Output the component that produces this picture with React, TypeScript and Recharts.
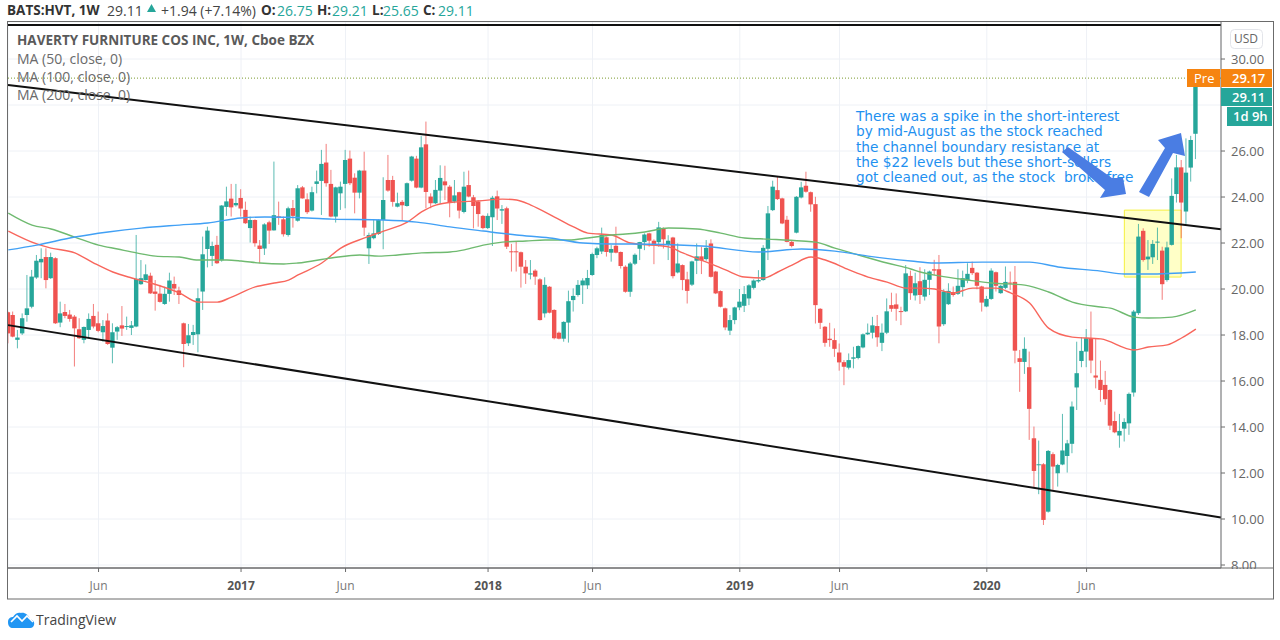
import React from "react";
import {
  ComposedChart,
  CartesianGrid,
  XAxis,
  YAxis,
  Bar,
  Line,
  ReferenceLine,
  ReferenceArea,
} from "recharts";

// weekly candles
const opens = [
  18.99,18.87,17.79,18.07,18.87,19.23,20.50,21.16,21.39,20.47,
  21.34,18.54,19.00,18.89,18.80,18.25,17.79,18.22,18.83,18.51,
  18.12,18.63,17.45,18.15,18.42,18.35,18.31,18.37,20.21,20.39,
  20.58,19.89,19.80,19.35,19.79,20.22,19.94,18.51,17.64,18.00,
  18.03,19.89,21.74,21.44,21.92,21.25,23.57,23.93,23.64,23.96,
  23.44,22.65,23.00,21.89,21.76,22.90,22.55,23.16,23.03,22.35,
  23.52,22.97,24.42,23.90,23.41,24.57,24.70,25.50,24.57,23.15,
  24.16,24.57,25.67,24.84,24.19,25.15,21.77,22.21,22.39,23.00,
  24.74,24.74,23.58,23.79,23.61,24.71,25.67,24.41,26.29,24.02,
  23.73,24.28,24.68,24.45,23.80,24.21,23.35,24.52,23.99,23.80,
  23.18,22.65,23.12,24.03,23.41,23.51,21.64,21.64,21.60,20.97,
  20.63,20.80,20.42,18.94,20.10,19.09,18.10,17.84,18.54,19.52,
  19.74,20.16,20.16,20.61,21.48,21.63,22.25,21.58,21.88,21.61,
  20.97,19.88,21.10,21.75,22.04,22.42,22.10,22.04,22.65,21.91,
  22.24,20.72,21.04,20.42,20.19,21.23,21.42,21.30,21.98,20.76,
  19.91,19.16,18.19,18.65,19.20,19.27,19.59,20.05,20.33,20.39,
  21.75,23.43,24.30,23.94,23.01,22.05,22.45,23.98,24.49,24.21,
  23.69,19.14,18.36,17.84,17.78,17.24,16.82,16.58,16.97,17.00,
  17.46,18.03,18.10,18.39,17.66,18.10,19.30,19.33,19.04,19.03,
  20.57,19.72,20.34,19.67,20.40,20.86,20.86,18.47,19.34,19.87,
  19.79,20.08,20.37,20.92,20.71,20.11,19.24,19.57,20.73,19.82,
  20.05,20.28,20.31,16.99,16.83,16.60,13.51,12.34,12.38,10.32,
  12.82,11.99,12.37,12.74,13.27,15.72,16.87,17.28,17.86,16.24,
  16.05,15.83,15.61,14.26,13.63,13.93,14.16,15.50,18.95,22.53,
  21.29,21.38,22.02,21.67,20.39,21.92,24.13,25.29,23.37,25.28,26.75,
];
const closes = [
  18.07,17.93,17.89,18.73,19.16,20.54,21.23,21.31,20.39,21.39,
  18.51,18.94,18.83,18.70,18.29,17.86,18.35,18.70,18.37,18.18,
  18.39,17.61,18.12,18.34,18.28,18.39,18.42,20.44,20.47,20.64,
  19.81,19.79,19.44,19.79,20.37,20.02,19.74,17.61,17.99,18.13,
  19.60,21.51,22.54,21.87,21.12,23.63,23.81,23.55,23.74,23.50,
  22.86,23.00,21.99,21.74,22.81,22.54,23.21,23.10,22.38,23.51,
  23.18,24.38,23.94,23.34,24.21,24.68,25.44,24.60,23.15,24.42,
  24.45,25.61,24.60,24.19,25.15,22.67,22.35,22.42,23.00,23.87,
  24.28,23.79,23.73,23.64,24.60,25.76,24.41,26.16,24.22,23.73,
  24.31,24.83,24.51,23.76,24.07,23.41,24.45,24.02,23.61,23.26,
  22.65,23.18,23.97,23.50,23.47,21.84,21.61,21.61,20.97,20.68,
  20.68,20.54,18.65,20.18,18.97,17.86,17.84,18.57,19.47,19.70,
  20.18,20.37,20.48,21.52,21.77,22.35,21.61,21.74,21.58,21.00,
  19.88,21.11,21.49,22.04,22.37,22.10,21.95,22.68,22.16,22.10,
  20.56,21.11,20.39,19.92,21.20,21.42,21.23,21.79,20.53,19.81,
  19.23,18.33,18.65,19.20,19.45,19.78,20.16,20.37,20.39,21.79,
  23.29,24.45,23.91,22.85,22.05,21.87,24.01,24.42,24.23,23.68,
  19.30,18.53,17.66,17.78,17.40,16.81,16.62,16.91,17.03,17.52,
  18.03,18.10,18.42,17.90,18.10,19.03,19.14,19.14,19.01,20.68,
  19.82,20.25,19.74,20.40,20.76,20.80,18.37,19.89,19.92,19.74,
  20.14,20.47,20.66,20.69,20.14,19.41,19.57,20.80,20.14,20.14,
  20.31,20.24,17.32,16.83,17.40,14.79,12.09,12.38,9.96,12.96,
  12.28,12.35,12.98,13.29,14.89,16.34,17.31,17.86,16.89,16.15,
  15.61,15.21,14.06,13.77,13.83,14.22,15.44,19.02,22.28,21.26,
  21.41,21.96,22.06,20.21,21.81,24.05,25.29,23.76,25.06,26.48,29.11,
];
const highs = [
  19.02,19.02,18.22,18.94,20.61,20.83,21.48,21.77,21.77,21.58,
  21.38,19.45,19.35,19.09,18.87,18.73,18.37,18.94,19.35,19.02,
  18.65,18.94,18.51,18.39,19.26,18.80,18.61,22.35,21.26,21.07,
  20.71,20.39,20.18,20.10,20.71,20.54,20.10,18.54,18.48,18.44,
  20.03,22.28,22.71,22.06,22.31,23.65,24.45,24.57,24.57,24.34,
  23.80,23.15,23.03,22.13,22.86,22.97,25.54,23.80,23.15,23.58,
  23.87,24.52,24.48,24.16,24.45,25.15,26.05,26.31,25.18,24.45,
  24.67,26.05,26.02,25.03,25.18,25.97,22.45,23.00,23.03,24.86,
  25.83,24.92,24.19,23.87,24.63,25.79,25.79,26.65,27.28,24.16,
  24.74,25.38,25.36,24.52,24.74,24.23,25.10,25.15,24.09,23.87,
  23.22,23.29,24.05,24.28,23.65,23.58,21.96,22.06,21.63,21.26,
  21.26,20.86,20.47,20.51,20.13,19.12,18.15,18.60,19.93,20.03,
  20.39,20.47,20.83,21.58,21.84,22.67,22.28,21.91,22.71,21.63,
  21.03,21.18,21.55,22.05,22.42,22.45,22.16,22.92,22.68,22.34,
  22.27,21.98,21.07,20.75,21.23,21.98,21.84,22.13,22.16,20.79,
  19.94,19.19,18.87,19.23,20.00,20.13,20.21,20.42,20.82,21.91,
  23.61,24.71,24.88,23.97,23.18,22.10,24.04,24.66,25.10,24.24,
  24.01,19.17,18.39,18.53,18.29,17.63,16.91,17.20,17.49,17.55,
  18.07,18.50,18.79,18.87,18.50,19.59,19.84,19.81,19.23,21.04,
  20.80,20.71,20.95,20.86,20.80,21.27,21.48,19.99,20.25,20.11,
  20.86,20.80,21.12,21.19,20.74,20.14,19.70,20.90,20.76,20.18,
  20.98,20.76,21.00,17.35,17.90,17.28,14.02,13.41,12.43,13.00,
  12.90,12.40,14.57,13.44,15.11,17.71,17.90,18.26,19.02,17.86,
  16.89,16.44,15.64,14.67,14.57,14.38,15.50,19.09,22.83,22.64,
  22.13,22.13,22.67,21.84,22.06,24.81,25.83,25.61,26.55,26.66,29.21,
];
const lows = [
  17.64,17.90,17.42,18.00,18.58,19.16,20.44,20.47,20.03,20.44,
  18.48,18.34,18.73,18.58,16.63,17.83,17.64,17.86,18.29,18.12,
  17.71,17.57,16.77,17.79,17.96,18.22,18.00,18.34,20.18,20.37,
  19.79,19.06,19.41,19.31,19.45,19.74,19.35,16.60,17.52,17.57,
  17.25,19.09,20.94,21.00,21.09,21.19,23.18,23.15,23.58,23.15,
  22.83,22.02,21.84,21.12,21.48,21.96,22.54,22.79,22.28,22.28,
  22.67,22.93,23.93,23.26,23.37,24.16,23.22,24.45,23.12,22.89,
  23.44,23.51,24.52,23.29,23.94,22.31,21.09,22.16,22.35,21.73,
  24.23,23.58,23.55,23.00,23.58,24.67,24.38,24.38,23.51,23.51,
  23.70,23.70,23.87,23.12,23.73,23.07,23.29,23.99,22.64,22.71,
  22.60,22.61,21.87,23.00,22.83,21.74,20.76,20.76,20.06,20.22,
  20.42,20.18,18.63,18.76,18.94,17.81,17.81,17.71,17.67,19.02,
  19.67,19.35,20.00,20.57,21.34,21.52,21.41,21.19,21.55,20.89,
  19.84,19.66,21.04,21.26,21.69,21.84,21.08,21.84,21.76,21.26,
  20.46,20.68,19.95,19.37,20.13,20.65,20.65,21.23,20.50,19.78,
  19.20,18.21,18.00,18.47,19.08,19.00,19.30,19.98,20.27,20.36,
  21.26,23.39,23.87,22.82,22.03,21.81,22.42,23.94,24.19,23.36,
  18.50,18.26,17.49,17.49,17.05,16.45,15.82,16.50,16.55,16.94,
  17.42,18.00,17.85,17.49,17.30,18.04,19.01,18.62,18.43,19.00,
  19.53,19.50,19.35,19.50,19.74,20.61,17.64,18.40,19.31,19.67,
  19.74,19.67,20.25,20.61,19.99,19.02,19.21,19.53,19.89,19.79,
  19.99,19.96,16.77,15.53,16.31,13.44,11.34,11.08,9.74,10.28,
  11.27,11.41,12.34,12.02,12.86,14.74,16.60,16.60,16.34,15.68,
  15.10,14.96,13.87,13.73,13.10,13.37,13.66,15.32,18.87,21.19,
  20.83,21.09,21.26,19.53,20.32,21.89,23.76,22.21,22.83,24.67,25.65,
];

// moving averages, read at the weeks where the curve bends
const ma50Weeks = [0,6,9,14,18,22,26,30,36,40,44,47,52,56,59,61,66,70,75,79,84,87,90,94,99,104,107,110,115,119,122,127,131,139,142,147,151,155,159,162,165,169,172,177,181,185,189,192,195,199,203,208,211,215,219,224,230,237,240,244,247,250];
const ma50Values = [22.52,21.96,21.78,21.57,21.13,20.74,20.48,20.26,19.83,19.43,19.43,19.65,20.09,20.26,20.39,20.61,21.13,21.78,22.22,22.52,22.91,23.35,23.65,23.78,23.83,23.91,23.87,23.65,23.13,22.70,22.43,22.35,22.00,21.83,21.57,21.17,20.83,20.52,20.48,20.74,21.04,21.39,21.26,20.83,20.52,20.30,20.04,20.04,20.00,19.83,20.04,20.04,19.83,19.39,18.30,17.91,17.83,17.35,17.48,17.57,17.87,18.26];
const ma100Weeks = [0,5,9,14,19,23,27,31,36,40,46,49,53,58,61,68,74,78,82,87,93,96,100,104,109,113,118,122,127,130,134,139,145,150,155,160,167,170,174,179,185,190,192,196,202,207,214,219,224,230,232,237,240,245,250];
const ma100Values = [23.30,22.78,22.61,22.26,21.91,21.74,21.57,21.43,21.39,21.26,21.26,21.22,21.13,21.09,21.13,21.35,21.48,21.43,21.48,21.57,21.61,21.70,21.91,22.04,22.09,22.13,22.13,22.22,22.35,22.39,22.48,22.65,22.61,22.43,22.22,22.17,22.09,22.04,21.78,21.48,21.13,20.87,20.74,20.57,20.39,20.26,20.17,19.87,19.43,19.22,19.17,18.78,18.74,18.78,19.09];
const ma200Weeks = [0,6,14,21,28,36,42,49,54,63,68,79,86,93,100,107,114,121,127,131,146,158,167,174,181,190,195,205,215,221,230,235,240,250];
const ma200Values = [21.70,21.91,22.26,22.48,22.65,22.78,22.87,23.09,23.13,23.09,23.04,23.00,22.91,22.70,22.52,22.35,22.22,22.00,21.96,21.96,21.87,21.61,21.74,21.65,21.43,21.22,21.13,21.17,21.17,20.96,20.78,20.65,20.65,20.74];

const tickWeeks = [19, 49, 71, 101, 123, 154, 175, 206, 227];
const tickLabels = ["Jun", "2017", "Jun", "2018", "Jun", "2019", "Jun", "2020", "Jun"];
const priceTicks = [8, 10, 12, 14, 16, 18, 20, 22, 24, 26, 28, 30];

const note = [
  "There was a spike in the short-interest",
  "by mid-August as the stock reached",
  "the channel boundary resistance at",
  "the $22 levels but these short-sellers",
  "got cleaned out, as the stock  broke free",
];
const legendRows = ["MA (50, close, 0)", "MA (100, close, 0)", "MA (200, close, 0)"];

const candles = opens.map((open, week) => ({
  week,
  open,
  close: closes[week],
  high: highs[week],
  low: lows[week],
}));

const toPoints = (weeks: number[], values: number[]) =>
  weeks.map((week, i) => ({ week, value: values[i] }));

const UP = "#26a69a";
const DOWN = "#ef5350";
const GRID = "#eef1f6";
const AXIS = "#6b6b6b";
const FONT = '"Open Sans", sans-serif';

function Candle(props: any) {
  const { x, y, width, height, payload } = props;
  const { open, close, high, low } = payload;
  const color = close >= open ? UP : DOWN;
  const perDollar = height / (high - low);
  const top = y + (high - Math.max(open, close)) * perDollar;
  const bodyH = Math.max(Math.abs(open - close) * perDollar, 1);
  const mid = x + width / 2;
  return (
    <g>
      <line x1={mid} x2={mid} y1={y} y2={y + height} stroke={color} strokeOpacity={0.75} strokeWidth={1} />
      <rect x={x - 0.2} y={top} width={width + 0.4} height={bodyH} fill={color} />
    </g>
  );
}

function TimeTick(props: any) {
  const { x, y, payload } = props;
  const label = tickLabels[tickWeeks.indexOf(payload.value)];
  const isYear = label !== "Jun";
  return (
    <text
      x={x}
      y={y}
      dy={16}
      textAnchor="middle"
      fontFamily={FONT}
      fontSize={12}
      fontWeight={isYear ? 700 : 400}
      fill={isYear ? "#555" : "#777"}
    >
      {label}
    </text>
  );
}

function Txt({ x, y, children, style }: any) {
  return (
    <div
      style={{
        position: "absolute",
        left: x,
        top: y,
        whiteSpace: "pre",
        lineHeight: "16px",
        fontFamily: FONT,
        ...style,
      }}
    >
      {children}
    </div>
  );
}

function Header() {
  const row = { lineHeight: "15px" };
  const bold = { ...row, fontSize: 13.5, fontWeight: 700, color: "#333" };
  const val = { ...row, fontSize: 14, color: UP };
  const plain = { ...row, fontSize: 14, color: "#444" };
  return (
    <>
      <Txt x={7} y={2.5} style={bold}>BATS:HVT, 1W</Txt>
      <Txt x={107} y={2.5} style={plain}>29.11</Txt>
      <Txt x={161} y={2.5} style={plain}>+1.94 (+7.14%)</Txt>
      <Txt x={261} y={2.5} style={bold}>O:</Txt>
      <Txt x={277} y={2.5} style={val}>26.75</Txt>
      <Txt x={317} y={2.5} style={bold}>H:</Txt>
      <Txt x={332} y={2.5} style={val}>29.21</Txt>
      <Txt x={372} y={2.5} style={bold}>L:</Txt>
      <Txt x={383} y={2.5} style={val}>25.65</Txt>
      <Txt x={423} y={2.5} style={bold}>C:</Txt>
      <Txt x={438} y={2.5} style={val}>29.11</Txt>
    </>
  );
}

function Overlay() {
  return (
    <svg width={1280} height={640} style={{ position: "absolute", left: 0, top: 0 }}>
      {/* header triangle */}
      <polygon points="147,12 156,12 151.5,4" fill={UP} />
      {/* frame */}
      <rect x={1222} y={569} width={51} height={30} fill="#fff" />
      <rect x={7.5} y={21.5} width={1266} height={577.5} fill="none" stroke={AXIS} strokeWidth={1} />
      <line x1={8} x2={1273} y1={568} y2={568} stroke={AXIS} />
      {/* USD button */}
      <rect x={1230.5} y={29.5} width={32} height={19} rx={4} fill="#fff" stroke="#e3e5ea" />
      {/* last price boxes */}
      <rect x={1187} y={69} width={33} height={18} fill="#f68410" />
      <rect x={1221} y={69} width={51} height={18} fill="#f68410" />
      <rect x={1221} y={88} width={51} height={18} fill={UP} />
      <rect x={1227} y={107} width={45} height={19} fill={UP} />
      {/* TradingView logo */}
      <path
        d="M8 622 C8 618 11 617 13 617 C15 613 19 612 21 613 C24 612 29 615 30 619 C33 620 35 622 34 625 C33 628 31 628 29 628 L13 628 C10 628 8 626 8 622 Z"
        fill="#2196f3"
      />
      <path d="M11 622 L17 616 L22 621 L27 616 L33 622" fill="none" stroke="#fff" strokeWidth={1.6} />
    </svg>
  );
}

// the two fat arrows sit on top of the note
function Arrows() {
  return (
    <svg width={1280} height={640} style={{ position: "absolute", left: 0, top: 0 }}>
      <polygon points="1062,152 1068,147 1112,178 1123,178 1126,194 1100,198 1105,190" fill="#4a7de3" />
      <polygon points="1139,192 1149,197 1173,153 1185,156 1181,133 1158,140 1165,148" fill="#4a7de3" />
    </svg>
  );
}

export default function App() {
  return (
    <div style={{ position: "absolute", left: 0, top: 0, width: 1280, height: 640, background: "#fff", overflow: "hidden" }}>
      <ComposedChart
        width={1280}
        height={640}
        data={candles}
        margin={{ top: 22, right: 7, bottom: 41, left: 8 }}
      >
        <CartesianGrid stroke={GRID} strokeWidth={1} />
        <XAxis
          dataKey="week"
          type="number"
          domain={[-0.06, 255.3]}
          allowDataOverflow
          ticks={tickWeeks}
          interval={0}
          height={31}
          tick={<TimeTick />}
          tickSize={4}
          stroke={AXIS}
        />
        <YAxis
          orientation="right"
          type="number"
          domain={[7.87, 31.61]}
          allowDataOverflow
          ticks={priceTicks}
          interval={0}
          width={52}
          tickSize={4}
          tickMargin={6}
          stroke={AXIS}
          tick={{ fill: "#666", fontSize: 13, fontFamily: FONT }}
          tickFormatter={(v: number) => (v === 28 ? "" : v.toFixed(2))}
        />
        <ReferenceArea
          x1={234.95}
          x2={246.9}
          y1={20.52}
          y2={23.43}
          fill="#ffff00"
          fillOpacity={0.22}
          stroke="#f5f03c"
          strokeWidth={1}
        />
        <Bar
          dataKey={(d: any) => [d.low, d.high]}
          barSize={4}
          shape={<Candle />}
          isAnimationActive={false}
        />
        <Line data={toPoints(ma50Weeks, ma50Values)} dataKey="value" type="monotone" stroke="#f8665c" strokeWidth={1.4} dot={false} isAnimationActive={false} />
        <Line data={toPoints(ma100Weeks, ma100Values)} dataKey="value" type="monotone" stroke="#6fba70" strokeWidth={1.4} dot={false} isAnimationActive={false} />
        <Line data={toPoints(ma200Weeks, ma200Values)} dataKey="value" type="monotone" stroke="#41a0f5" strokeWidth={1.4} dot={false} isAnimationActive={false} />
        <ReferenceLine y={29.17} stroke="#7a9a2e" strokeDasharray="1 2" />
        <ReferenceLine y={31.48} stroke="#111" strokeWidth={2} />
        <ReferenceLine segment={[{ x: -0.06, y: 28.87 }, { x: 255.3, y: 22.6 }]} stroke="#111" strokeWidth={2} />
        <ReferenceLine segment={[{ x: -0.06, y: 18.43 }, { x: 255.3, y: 10.07 }]} stroke="#111" strokeWidth={2} />
      </ComposedChart>

      <Overlay />
      <Header />

      <Txt x={17} y={32} style={{ fontSize: 13.5, fontWeight: 700, color: "#5a5a5a" }}>HAVERTY FURNITURE COS INC, 1W, Cboe BZX</Txt>
      {legendRows.map((row, i) => (
        <Txt key={row} x={17} y={51 + i * 18} style={{ fontSize: 14, color: "#6a6a6a" }}>{row}</Txt>
      ))}

      {note.map((row, i) => (
        <Txt key={row} x={856} y={108 + i * 15.3} style={{ fontSize: 13.7, color: "#1e90f0", fontFamily: '"DejaVu Sans", sans-serif' }}>{row}</Txt>
      ))}
      <Arrows />

      <Txt x={1194} y={70} style={{ fontSize: 13, color: "#fff" }}>Pre</Txt>
      <Txt x={1232} y={70} style={{ fontSize: 13, color: "#fff", fontWeight: 600 }}>29.17</Txt>
      <Txt x={1232} y={89} style={{ fontSize: 13, color: "#fff", fontWeight: 600 }}>29.11</Txt>
      <Txt x={1233} y={108} style={{ fontSize: 13, color: "#fff", fontWeight: 600 }}>1d 9h</Txt>
      <Txt x={1234} y={31} style={{ fontSize: 12, color: "#666" }}>USD</Txt>
      <Txt x={36} y={612} style={{ fontSize: 14, color: "#444" }}>TradingView</Txt>
    </div>
  );
}
